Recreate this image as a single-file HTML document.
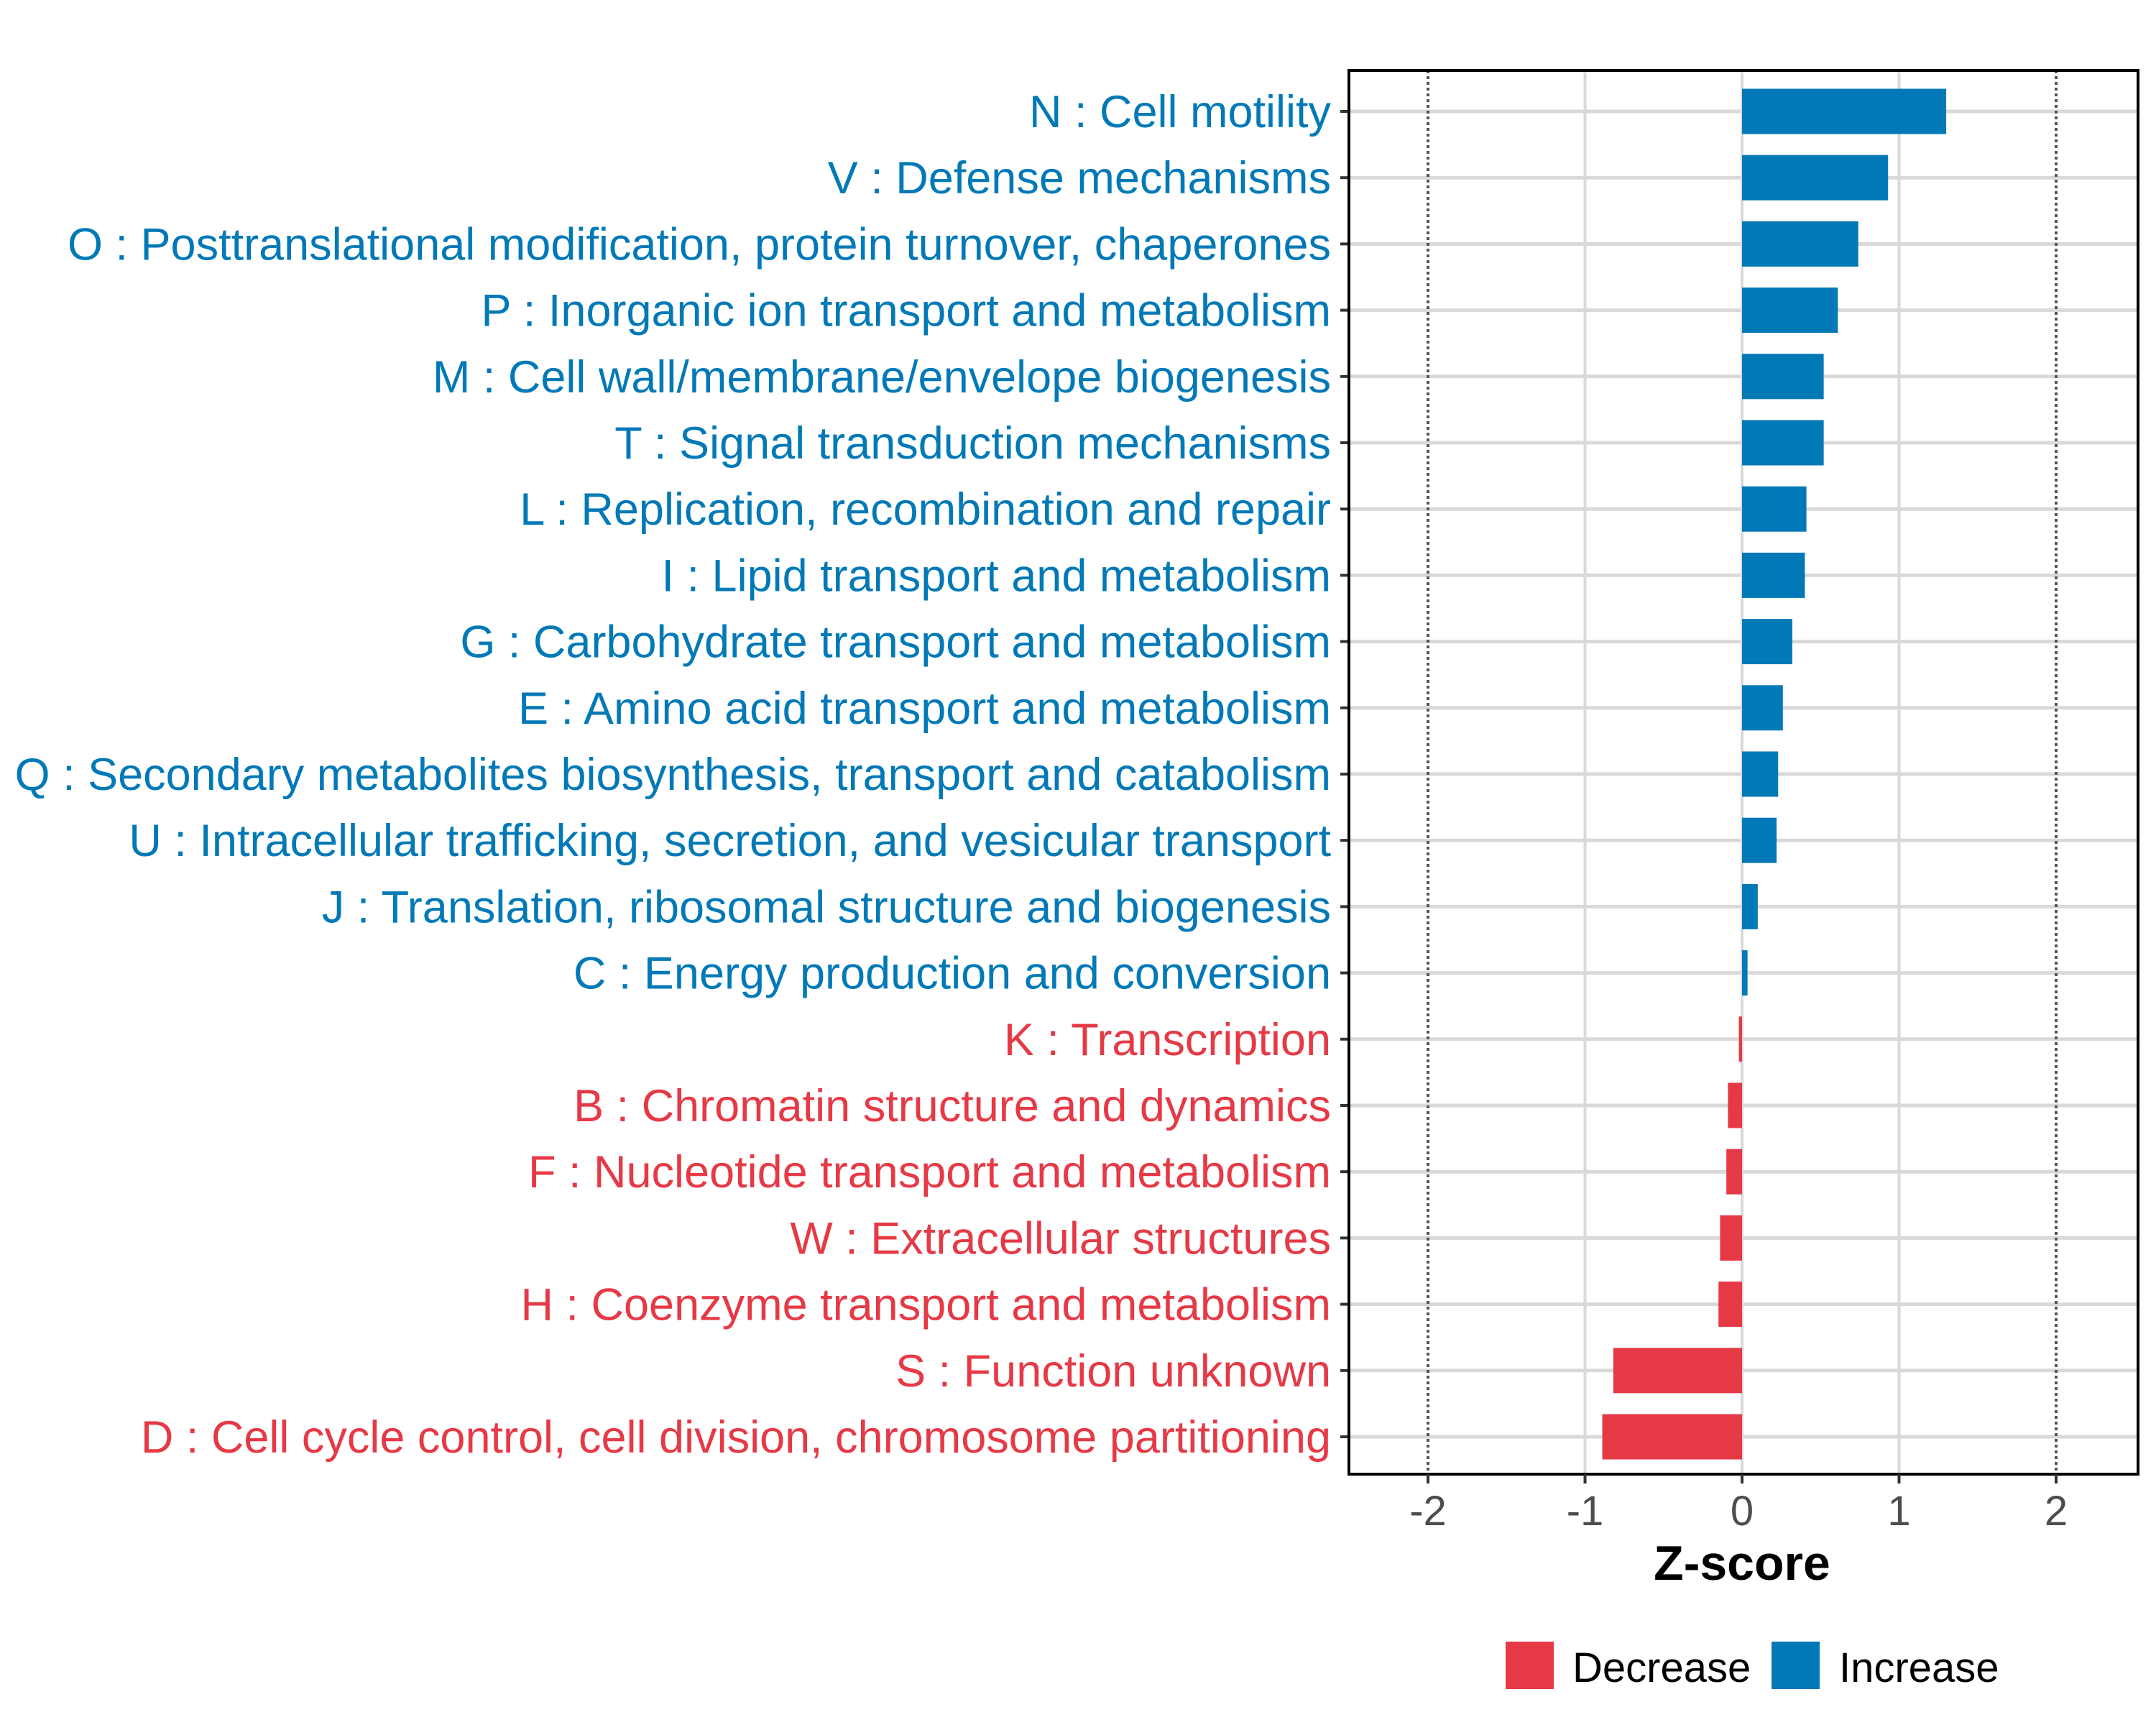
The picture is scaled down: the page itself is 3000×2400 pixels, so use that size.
<!DOCTYPE html>
<html><head><meta charset="utf-8"><style>
html,body{margin:0;padding:0;background:#fff;}
svg{display:block;font-family:"Liberation Sans",Arial,sans-serif;}
</style></head><body>
<svg id="chart" width="3000" height="2400" viewBox="0 0 3000 2400"></svg>
<script>
const categories = ["N : Cell motility","V : Defense mechanisms","O : Posttranslational modification, protein turnover, chaperones","P : Inorganic ion transport and metabolism","M : Cell wall/membrane/envelope biogenesis","T : Signal transduction mechanisms","L : Replication, recombination and repair","I : Lipid transport and metabolism","G : Carbohydrate transport and metabolism","E : Amino acid transport and metabolism","Q : Secondary metabolites biosynthesis, transport and catabolism","U : Intracellular trafficking, secretion, and vesicular transport","J : Translation, ribosomal structure and biogenesis","C : Energy production and conversion","K : Transcription","B : Chromatin structure and dynamics","F : Nucleotide transport and metabolism","W : Extracellular structures","H : Coenzyme transport and metabolism","S : Function unknown","D : Cell cycle control, cell division, chromosome partitioning"];
const zscores = [1.30,0.93,0.74,0.61,0.52,0.52,0.41,0.40,0.32,0.26,0.23,0.22,0.10,0.035,-0.02,-0.09,-0.10,-0.14,-0.15,-0.82,-0.89];
const xTicks = [-2,-1,0,1,2];
const xTickLabels = ["-2","-1","0","1","2"];
const thresholds = [-2,2];
const legendLabels = ["Decrease","Increase"];

const NS="http://www.w3.org/2000/svg";
const svg=document.getElementById('chart');
const L=1877,R=2975,T=98,B=2051;
const BLUE="#0279b7",RED="#e63946";
function xs(v){return 2424+v*218.5;}
function ys(i){return 155+i*(1999-155)/(categories.length-1);}
function mk(tag,attrs,parent){const e=document.createElementNS(NS,tag);for(const k in attrs)e.setAttribute(k,attrs[k]);(parent||svg).appendChild(e);return e;}

const grid=mk('g',{});


xTicks.forEach(t=>{
  if(thresholds.includes(t))return;
  const l=mk('line',{x1:xs(t),x2:xs(t),y1:T,y2:B,stroke:"#d9d9d9","stroke-width":4},grid);
  
  
});
categories.forEach((c,i)=>{
  const l=mk('line',{x1:L,x2:R,y1:ys(i),y2:ys(i),stroke:"#d9d9d9","stroke-width":5},grid);
  
  
});
thresholds.forEach(t=>{
  const l=mk('line',{x1:xs(t),x2:xs(t),y1:T,y2:B,stroke:"#555","stroke-width":4,"stroke-dasharray":"4 4"});
  
  
});
const bh=63;
categories.forEach((c,i)=>{
  const v=zscores[i];
  const x0=Math.min(xs(0),xs(v)),w=Math.abs(xs(v)-xs(0));
  const col=v>=0?BLUE:RED;
  const r=mk('rect',{x:x0,y:ys(i)-bh/2,width:Math.max(w,1),height:bh,fill:col});
  
  
  const tk=mk('line',{x1:1865,x2:L,y1:ys(i),y2:ys(i),stroke:"#333","stroke-width":4});
  
  
  const tx=mk('text',{x:1852,y:ys(i)+22,"text-anchor":"end","font-size":63,fill:col});
  tx.textContent=c;
  
  
});
const frame=mk('rect',{x:L,y:T,width:R-L,height:B-T,fill:"none",stroke:"#000","stroke-width":4});


xTicks.forEach((t,i)=>{
  const tk=mk('line',{x1:xs(t),x2:xs(t),y1:B,y2:B+13,stroke:"#333","stroke-width":4});
  
  
  const tx=mk('text',{x:xs(t),y:2122,"text-anchor":"middle","font-size":58,fill:"#4d4d4d"});
  tx.textContent=xTickLabels[i];
  
  
});
const xt=mk('text',{x:xs(0),y:2198,"text-anchor":"middle","font-size":68,"font-weight":"bold",fill:"#000"});
xt.textContent="Z-score";


const legCols=[RED,BLUE],legBoxX=[2095,2465],legTextX=[2188,2559];
legendLabels.forEach((lab,i)=>{
  const r=mk('rect',{x:legBoxX[i],y:2284,width:67,height:66,fill:legCols[i]});
  
  
  const tx=mk('text',{x:legTextX[i],y:2340,"font-size":58,fill:"#000"});
  tx.textContent=lab;
  
  
});
</script>
</body></html>
